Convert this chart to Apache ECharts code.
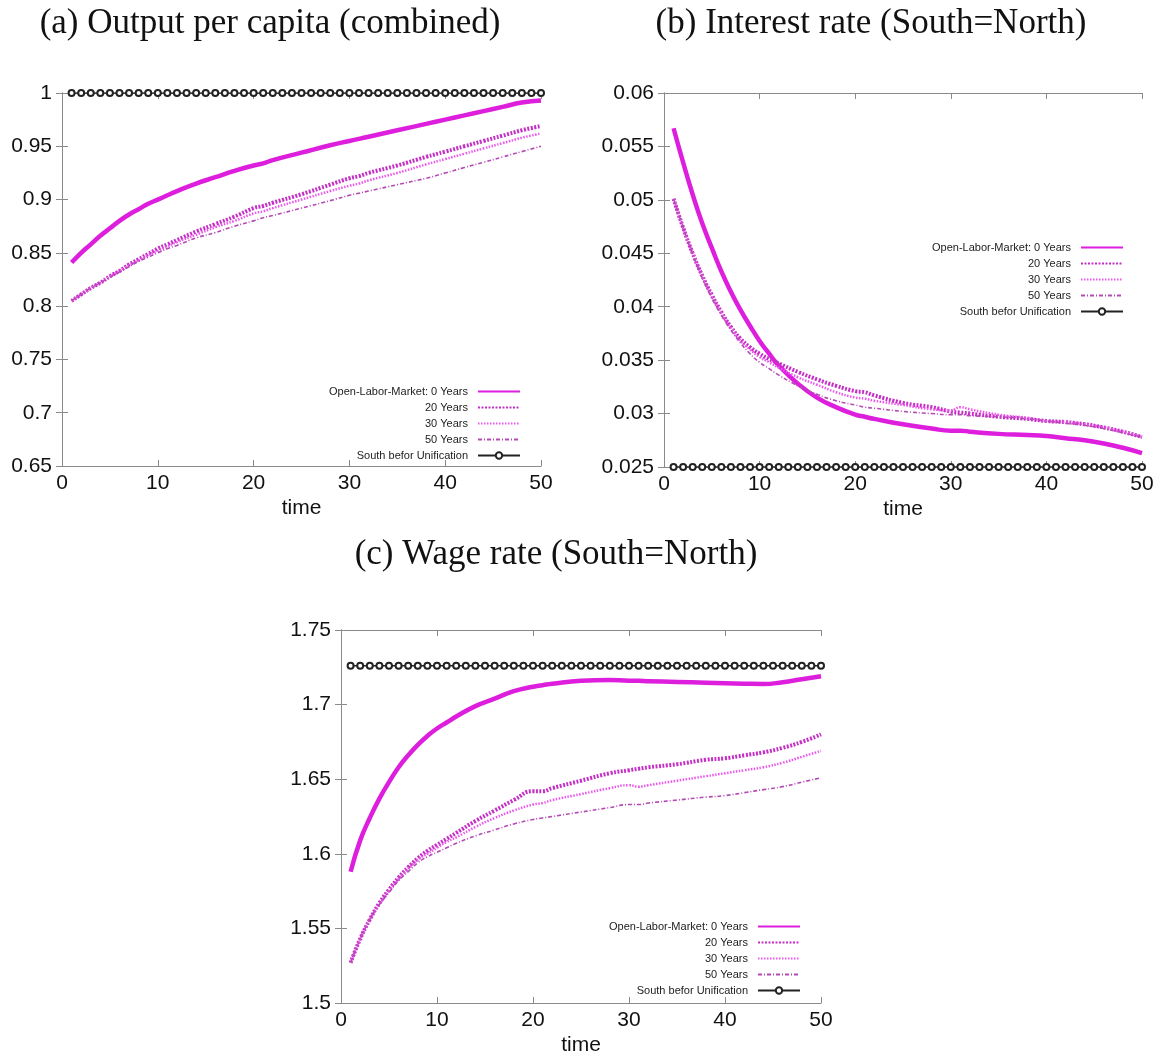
<!DOCTYPE html>
<html>
<head>
<meta charset="utf-8">
<script src="https://cdn.jsdelivr.net/npm/echarts@6/dist/echarts.min.js"></script>
<style>
html,body{margin:0;padding:0;background:#fff;}
#chart{width:1164px;height:1057px;}
</style>
</head>
<body>
<div id="chart"></div>
<script>
// ---------- data ----------
const NAMES = ['Open-Labor-Market: 0 Years', '20 Years', '30 Years', '50 Years', 'South befor Unification'];
const TITLES = ['(a) Output per capita (combined)', '(b) Interest rate (South=North)', '(c) Wage rate (South=North)'];
const X_NAME = 'time';

// sample times for the simulated paths
const T = [1,2,3,4,5,6,7,8,9,10,11,12,14,16,18,20,21,22,25,28,30,31,32,35,38,40,42,44,46,48,50];

// (a) Output per capita
const A_Y0  = [0.841,0.850,0.858,0.866,0.873,0.880,0.886,0.891,0.896,0.900,0.904,0.908,0.915,0.921,0.927,0.932,0.934,0.937,0.944,0.951,0.955,0.957,0.959,0.965,0.971,0.975,0.979,0.983,0.987,0.991,0.993];
const A_Y20 = [0.805,0.811,0.817,0.822,0.828,0.833,0.839,0.844,0.849,0.854,0.858,0.862,0.870,0.877,0.884,0.892,0.894,0.897,0.905,0.914,0.920,0.922,0.925,0.932,0.940,0.945,0.950,0.955,0.960,0.965,0.969];
const A_Y30 = [0.805,0.811,0.817,0.822,0.828,0.833,0.838,0.843,0.848,0.852,0.856,0.860,0.867,0.874,0.880,0.887,0.889,0.892,0.900,0.908,0.913,0.915,0.918,0.925,0.933,0.938,0.943,0.948,0.953,0.958,0.962];
const A_Y50 = [0.805,0.811,0.817,0.822,0.827,0.832,0.837,0.842,0.846,0.850,0.854,0.857,0.864,0.869,0.875,0.880,0.883,0.885,0.892,0.899,0.904,0.906,0.908,0.914,0.920,0.925,0.930,0.935,0.940,0.945,0.950];

// (b) Interest rate
const B_Y0  = [0.0567,0.0535,0.0505,0.0478,0.0455,0.0433,0.0414,0.0397,0.0382,0.0368,0.0356,0.0345,0.0328,0.0315,0.0306,0.0299,0.0297,0.0295,0.0290,0.0286,0.0284,0.0284,0.0283,0.0281,0.0280,0.0279,0.0277,0.0275,0.0272,0.0268,0.0263];
const B_Y20 = [0.0501,0.0474,0.0450,0.0429,0.0411,0.0395,0.0381,0.0370,0.0362,0.0356,0.0351,0.0347,0.0339,0.0332,0.0326,0.0321,0.0320,0.0317,0.0310,0.0306,0.0302,0.0301,0.0300,0.0297,0.0295,0.0293,0.0292,0.0290,0.0287,0.0283,0.0278];
const B_Y30 = [0.0501,0.0474,0.0450,0.0429,0.0410,0.0394,0.0380,0.0368,0.0360,0.0353,0.0348,0.0343,0.0334,0.0327,0.0320,0.0315,0.0314,0.0312,0.0308,0.0304,0.0303,0.0306,0.0304,0.0299,0.0296,0.0293,0.0292,0.0290,0.0287,0.0283,0.0278];
const B_Y50 = [0.0501,0.0474,0.0449,0.0427,0.0408,0.0392,0.0378,0.0366,0.0356,0.0348,0.0342,0.0336,0.0326,0.0318,0.0312,0.0308,0.0306,0.0305,0.0302,0.0300,0.0299,0.0299,0.0298,0.0297,0.0295,0.0293,0.0291,0.0289,0.0286,0.0282,0.0278];

// (c) Wage rate
const C_Y0  = [1.588,1.609,1.624,1.637,1.648,1.658,1.666,1.673,1.679,1.684,1.688,1.692,1.699,1.704,1.709,1.712,1.713,1.714,1.716,1.7165,1.716,1.716,1.7157,1.7152,1.7147,1.7143,1.714,1.7138,1.715,1.717,1.719];
const C_Y20 = [1.527,1.543,1.556,1.567,1.576,1.584,1.591,1.597,1.602,1.606,1.610,1.614,1.622,1.629,1.636,1.642,1.642,1.644,1.649,1.654,1.656,1.657,1.658,1.660,1.663,1.664,1.666,1.668,1.671,1.675,1.680];
const C_Y30 = [1.527,1.543,1.556,1.566,1.575,1.583,1.590,1.596,1.600,1.604,1.608,1.611,1.618,1.624,1.629,1.633,1.634,1.636,1.640,1.644,1.646,1.645,1.646,1.649,1.652,1.654,1.656,1.658,1.661,1.665,1.669];
const C_Y50 = [1.527,1.543,1.556,1.566,1.574,1.582,1.588,1.594,1.598,1.601,1.604,1.607,1.612,1.616,1.620,1.623,1.624,1.625,1.628,1.631,1.633,1.633,1.634,1.636,1.638,1.639,1.641,1.643,1.645,1.648,1.651];

// South before unification (constant benchmark, marked every period)
const SOUTH_T = [1,2,3,4,5,6,7,8,9,10,11,12,13,14,15,16,17,18,19,20,21,22,23,24,25,26,27,28,29,30,31,32,33,34,35,36,37,38,39,40,41,42,43,44,45,46,47,48,49,50];
const SOUTH_A = [1,1,1,1,1,1,1,1,1,1,1,1,1,1,1,1,1,1,1,1,1,1,1,1,1,1,1,1,1,1,1,1,1,1,1,1,1,1,1,1,1,1,1,1,1,1,1,1,1,1];
const SOUTH_B = [0.025,0.025,0.025,0.025,0.025,0.025,0.025,0.025,0.025,0.025,0.025,0.025,0.025,0.025,0.025,0.025,0.025,0.025,0.025,0.025,0.025,0.025,0.025,0.025,0.025,0.025,0.025,0.025,0.025,0.025,0.025,0.025,0.025,0.025,0.025,0.025,0.025,0.025,0.025,0.025,0.025,0.025,0.025,0.025,0.025,0.025,0.025,0.025,0.025,0.025];
const SOUTH_C = [1.726,1.726,1.726,1.726,1.726,1.726,1.726,1.726,1.726,1.726,1.726,1.726,1.726,1.726,1.726,1.726,1.726,1.726,1.726,1.726,1.726,1.726,1.726,1.726,1.726,1.726,1.726,1.726,1.726,1.726,1.726,1.726,1.726,1.726,1.726,1.726,1.726,1.726,1.726,1.726,1.726,1.726,1.726,1.726,1.726,1.726,1.726,1.726,1.726,1.726];

// axis ranges [min, max, interval]
const X_RANGE = [0, 50, 10];
const Y_RANGES = [[0.65, 1, 0.05], [0.025, 0.06, 0.005], [1.5, 1.75, 0.05]];

// ---------- chart ----------
const PANEL_DATA = [
  [A_Y0, A_Y20, A_Y30, A_Y50, SOUTH_A],
  [B_Y0, B_Y20, B_Y30, B_Y50, SOUTH_B],
  [C_Y0, C_Y20, C_Y30, C_Y50, SOUTH_C]
];

const GRIDS = [
  {left: 62, top: 93, width: 479, height: 373},
  {left: 664, top: 93, width: 478, height: 374},
  {left: 341, top: 630, width: 480, height: 375}
];
const TITLE_POS = [{x: 270, y: 6}, {x: 871, y: 6}, {x: 556, y: 537}];
const LEGEND_POS = [{right: 643, top: 386}, {right: 40, top: 242}, {right: 363, top: 921}];

const SANS = '"Liberation Sans", Arial, Helvetica, sans-serif';
const SERIF = '"Liberation Serif", "Times New Roman", serif';
const FRAME = '#8a8a8a';

const LINE_STYLES = [
  {color: '#dd1fdd', width: 4.5, type: 'solid'},
  {color: '#c52fc5', width: 4, type: [2, 1.5]},
  {color: '#ee55ee', width: 2.5, type: [1.5, 1.5]},
  {color: '#b54ab5', width: 1.6, type: [4, 2, 1, 2]},
  {color: '#222222', width: 1.4, type: 'solid'}
];

function pairs(xs, ys) { return xs.map((x, i) => [x, ys[i]]); }

const xAxes = [], yAxes = [], series = [], titles = [], legends = [];
GRIDS.forEach((g, gi) => {
  const yr = Y_RANGES[gi];
  const common = {
    axisLine: {show: true, lineStyle: {color: FRAME, width: 1}},
    axisTick: {show: true, inside: true, length: 6, lineStyle: {color: FRAME, width: 1}},
    splitLine: {show: false}
  };
  xAxes.push(Object.assign({
    type: 'value', gridIndex: gi, position: 'bottom', min: X_RANGE[0], max: X_RANGE[1], interval: X_RANGE[2],
    name: X_NAME, nameLocation: 'middle', nameGap: 32,
    nameTextStyle: {color: '#111', fontFamily: SANS, fontSize: 21},
    axisLabel: {color: '#111', fontFamily: SANS, fontSize: 21, margin: 7, showMinLabel: true, showMaxLabel: true}
  }, common));
  xAxes.push(Object.assign({
    type: 'value', gridIndex: gi, position: 'top', min: X_RANGE[0], max: X_RANGE[1], interval: X_RANGE[2],
    axisLabel: {show: false}
  }, common));
  yAxes.push(Object.assign({
    type: 'value', gridIndex: gi, position: 'left', min: yr[0], max: yr[1], interval: yr[2],
    axisLabel: {color: '#111', fontFamily: SANS, fontSize: 21, margin: 10, showMinLabel: true, showMaxLabel: true}
  }, common));
  yAxes.push(Object.assign({
    type: 'value', gridIndex: gi, position: 'right', min: yr[0], max: yr[1], interval: yr[2],
    axisLabel: {show: false}
  }, common));

  PANEL_DATA[gi].forEach((ys, si) => {
    const isSouth = si === 4;
    const st = LINE_STYLES[si];
    series.push({
      type: 'line',
      name: NAMES[si],
      xAxisIndex: gi * 2,
      yAxisIndex: gi * 2,
      data: isSouth ? pairs(SOUTH_T, ys) : pairs(T, ys),
      smooth: isSouth ? false : true,
      symbol: isSouth ? 'emptyCircle' : 'none',
      symbolSize: 6,
      showSymbol: isSouth,
      showAllSymbol: true,
      lineStyle: {color: st.color, width: st.width, type: st.type, cap: 'butt', join: 'round'},
      itemStyle: {color: st.color, borderColor: st.color, borderWidth: 1.2},
      emphasis: {disabled: true},
      z: 2 + si
    });
  });

  titles.push({
    text: TITLES[gi], left: TITLE_POS[gi].x, top: TITLE_POS[gi].y, textAlign: 'center', padding: 0,
    textStyle: {fontFamily: SERIF, fontSize: 35, fontWeight: 'normal', color: '#111'}
  });

  legends.push({
    orient: 'vertical', align: 'right', right: LEGEND_POS[gi].right, top: LEGEND_POS[gi].top,
    itemWidth: 42, itemHeight: 8, itemGap: 5, padding: 0, selectedMode: false,
    textStyle: {fontFamily: SANS, fontSize: 11, color: '#222', padding: [0, 5, 0, 0]},
    data: NAMES.map((n, i) => i === 4 ? {name: n} : {name: n, itemStyle: {opacity: 0}})
  });
});

const chart = echarts.init(document.getElementById('chart'), null, {renderer: 'canvas'});
chart.setOption({
  animation: false,
  backgroundColor: '#ffffff',
  title: titles,
  legend: legends,
  grid: GRIDS.map(g => Object.assign({containLabel: false}, g)),
  xAxis: xAxes,
  yAxis: yAxes,
  series: series
});
</script>
</body>
</html>
